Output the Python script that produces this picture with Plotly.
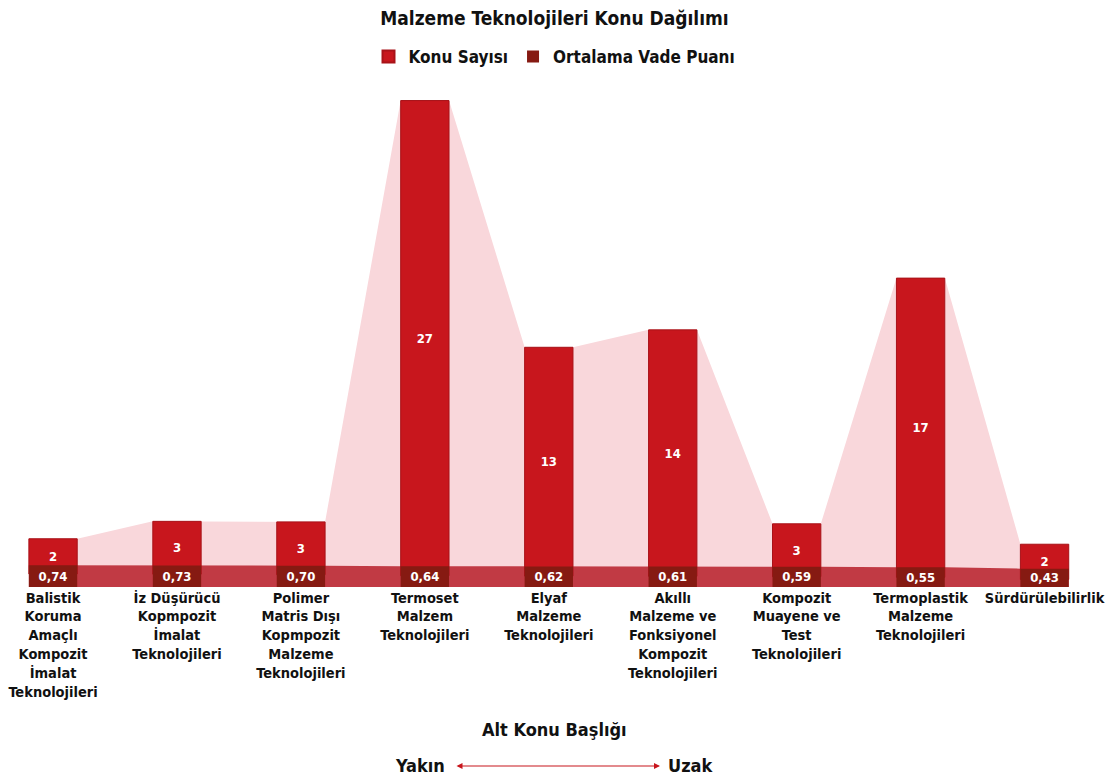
import plotly.graph_objects as go

categories = [
    "Balistik<br>Koruma<br>Amaçlı<br>Kompozit<br>İmalat<br>Teknolojileri",
    "İz Düşürücü<br>Kopmpozit<br>İmalat<br>Teknolojileri",
    "Polimer<br>Matris Dışı<br>Kopmpozit<br>Malzeme<br>Teknolojileri",
    "Termoset<br>Malzem<br>Teknolojileri",
    "Elyaf<br>Malzeme<br>Teknolojileri",
    "Akıllı<br>Malzeme ve<br>Fonksiyonel<br>Kompozit<br>Teknolojileri",
    "Kompozit<br>Muayene ve<br>Test<br>Teknolojileri",
    "Termoplastik<br>Malzeme<br>Teknolojileri",
    "Sürdürülebilirlik",
]
konu_sayisi = [2, 3, 3, 27, 13, 14, 3, 17, 2]
vade_puani = [0.74, 0.73, 0.70, 0.64, 0.62, 0.61, 0.59, 0.55, 0.43]

FONT = "DejaVu Sans Condensed, Liberation Sans Narrow, Roboto, sans-serif"
RED = "#c8161d"
DARK = "#861a12"
PINK = "#f9d7db"
BAND = "#c13a44"
W = 0.39

xs = list(range(len(categories)))
totals = [k + v for k, v in zip(konu_sayisi, vade_puani)]

# edge points for area traces (flat over each bar)
ex, ey_tot, ey_vade = [], [], []
for i in xs:
    ex += [i - W / 2, i + W / 2]
    ey_tot += [totals[i], totals[i]]
    ey_vade += [vade_puani[i], vade_puani[i]]

fig = go.Figure()
fig.add_trace(go.Scatter(x=ex, y=ey_tot, mode="lines", fill="tozeroy",
                         fillcolor=PINK, line=dict(width=0, color=PINK),
                         showlegend=False, hoverinfo="skip", yaxis="y"))
fig.add_trace(go.Scatter(x=ex, y=ey_vade, mode="lines", fill="tozeroy",
                         fillcolor=BAND, line=dict(width=0, color=BAND),
                         showlegend=False, hoverinfo="skip", yaxis="y2"))
fig.add_trace(go.Bar(x=xs, y=konu_sayisi, base=vade_puani, width=W,
                     name="Konu Sayısı", marker=dict(color=RED, line=dict(color="#a81218", width=1)),
                     text=[str(k) for k in konu_sayisi], textposition="inside",
                     insidetextanchor="middle", constraintext="none",
                     textfont=dict(family=FONT, size=13, color="white", weight="bold"),
                     yaxis="y3"))
fig.add_trace(go.Bar(x=xs, y=vade_puani, width=W,
                     name="Ortalama Vade Puanı", marker=dict(color=DARK, line=dict(width=0)),
                     text=[f"{v:.2f}".replace(".", ",") for v in vade_puani],
                     textposition="inside", insidetextanchor="middle", constraintext="none",
                     textfont=dict(family=FONT, size=13, color="white", weight="bold"),
                     yaxis="y4"))

PH = 502
Y1 = [0, PH / 17.6]
Y2 = [-1.678, -1.678 + PH / 14]
fig.update_layout(
    width=1109, height=778,
    margin=dict(l=0, r=0, t=85, b=191),
    paper_bgcolor="white", plot_bgcolor="white",
    barmode="overlay",
    font=dict(family=FONT, color="#111111"),
    title=dict(text="Malzeme Teknolojileri Konu Dağılımı", x=0.5, xanchor="center",
               y=1 - 18 / 778, yanchor="middle", yref="container",
               font=dict(family=FONT, size=19, color="#111111", weight="bold")),
    legend=dict(orientation="h", x=0.5, xanchor="center", y=(587 - 57) / PH, yanchor="middle",
                font=dict(family=FONT, size=17, color="#111111", weight="bold"),
                itemsizing="constant", bgcolor="rgba(0,0,0,0)", itemwidth=30,
                traceorder="normal"),
    xaxis=dict(range=[-0.428, 8.52], tickvals=xs, ticktext=categories,
               showgrid=False, zeroline=False, showline=False, ticks="",
               tickfont=dict(family=FONT, size=14.5, color="#111111", weight="bold")),
    yaxis=dict(range=Y1, visible=False, showgrid=False),
    yaxis2=dict(type="log", range=Y2, overlaying="y", visible=False, showgrid=False),
    yaxis3=dict(range=Y1, overlaying="y", visible=False, showgrid=False),
    yaxis4=dict(type="log", range=Y2, overlaying="y", visible=False, showgrid=False),
    showlegend=True,
)

TF = dict(family=FONT, size=18, color="#111111", weight="bold")
fig.add_annotation(text="Alt Konu Başlığı", xref="paper", yref="paper", x=0.5,
                   y=(587 - 729) / PH, showarrow=False, yanchor="middle", font=TF)
fig.add_annotation(text="Yakın", xref="paper", yref="paper", x=420 / 1109,
                   y=(587 - 765) / PH, showarrow=False, yanchor="middle", font=TF)
fig.add_annotation(text="Uzak", xref="paper", yref="paper", x=691 / 1109,
                   y=(587 - 765) / PH, showarrow=False, yanchor="middle", font=TF)
fig.add_annotation(text="", xref="paper", yref="paper", x=660 / 1109,
                   y=(587 - 766) / PH, ax=-205, ay=0, axref="pixel", ayref="pixel",
                   showarrow=True, arrowhead=2, arrowside="end+start", arrowsize=1,
                   arrowwidth=1.2, arrowcolor=RED)

fig.write_html("out.html")
